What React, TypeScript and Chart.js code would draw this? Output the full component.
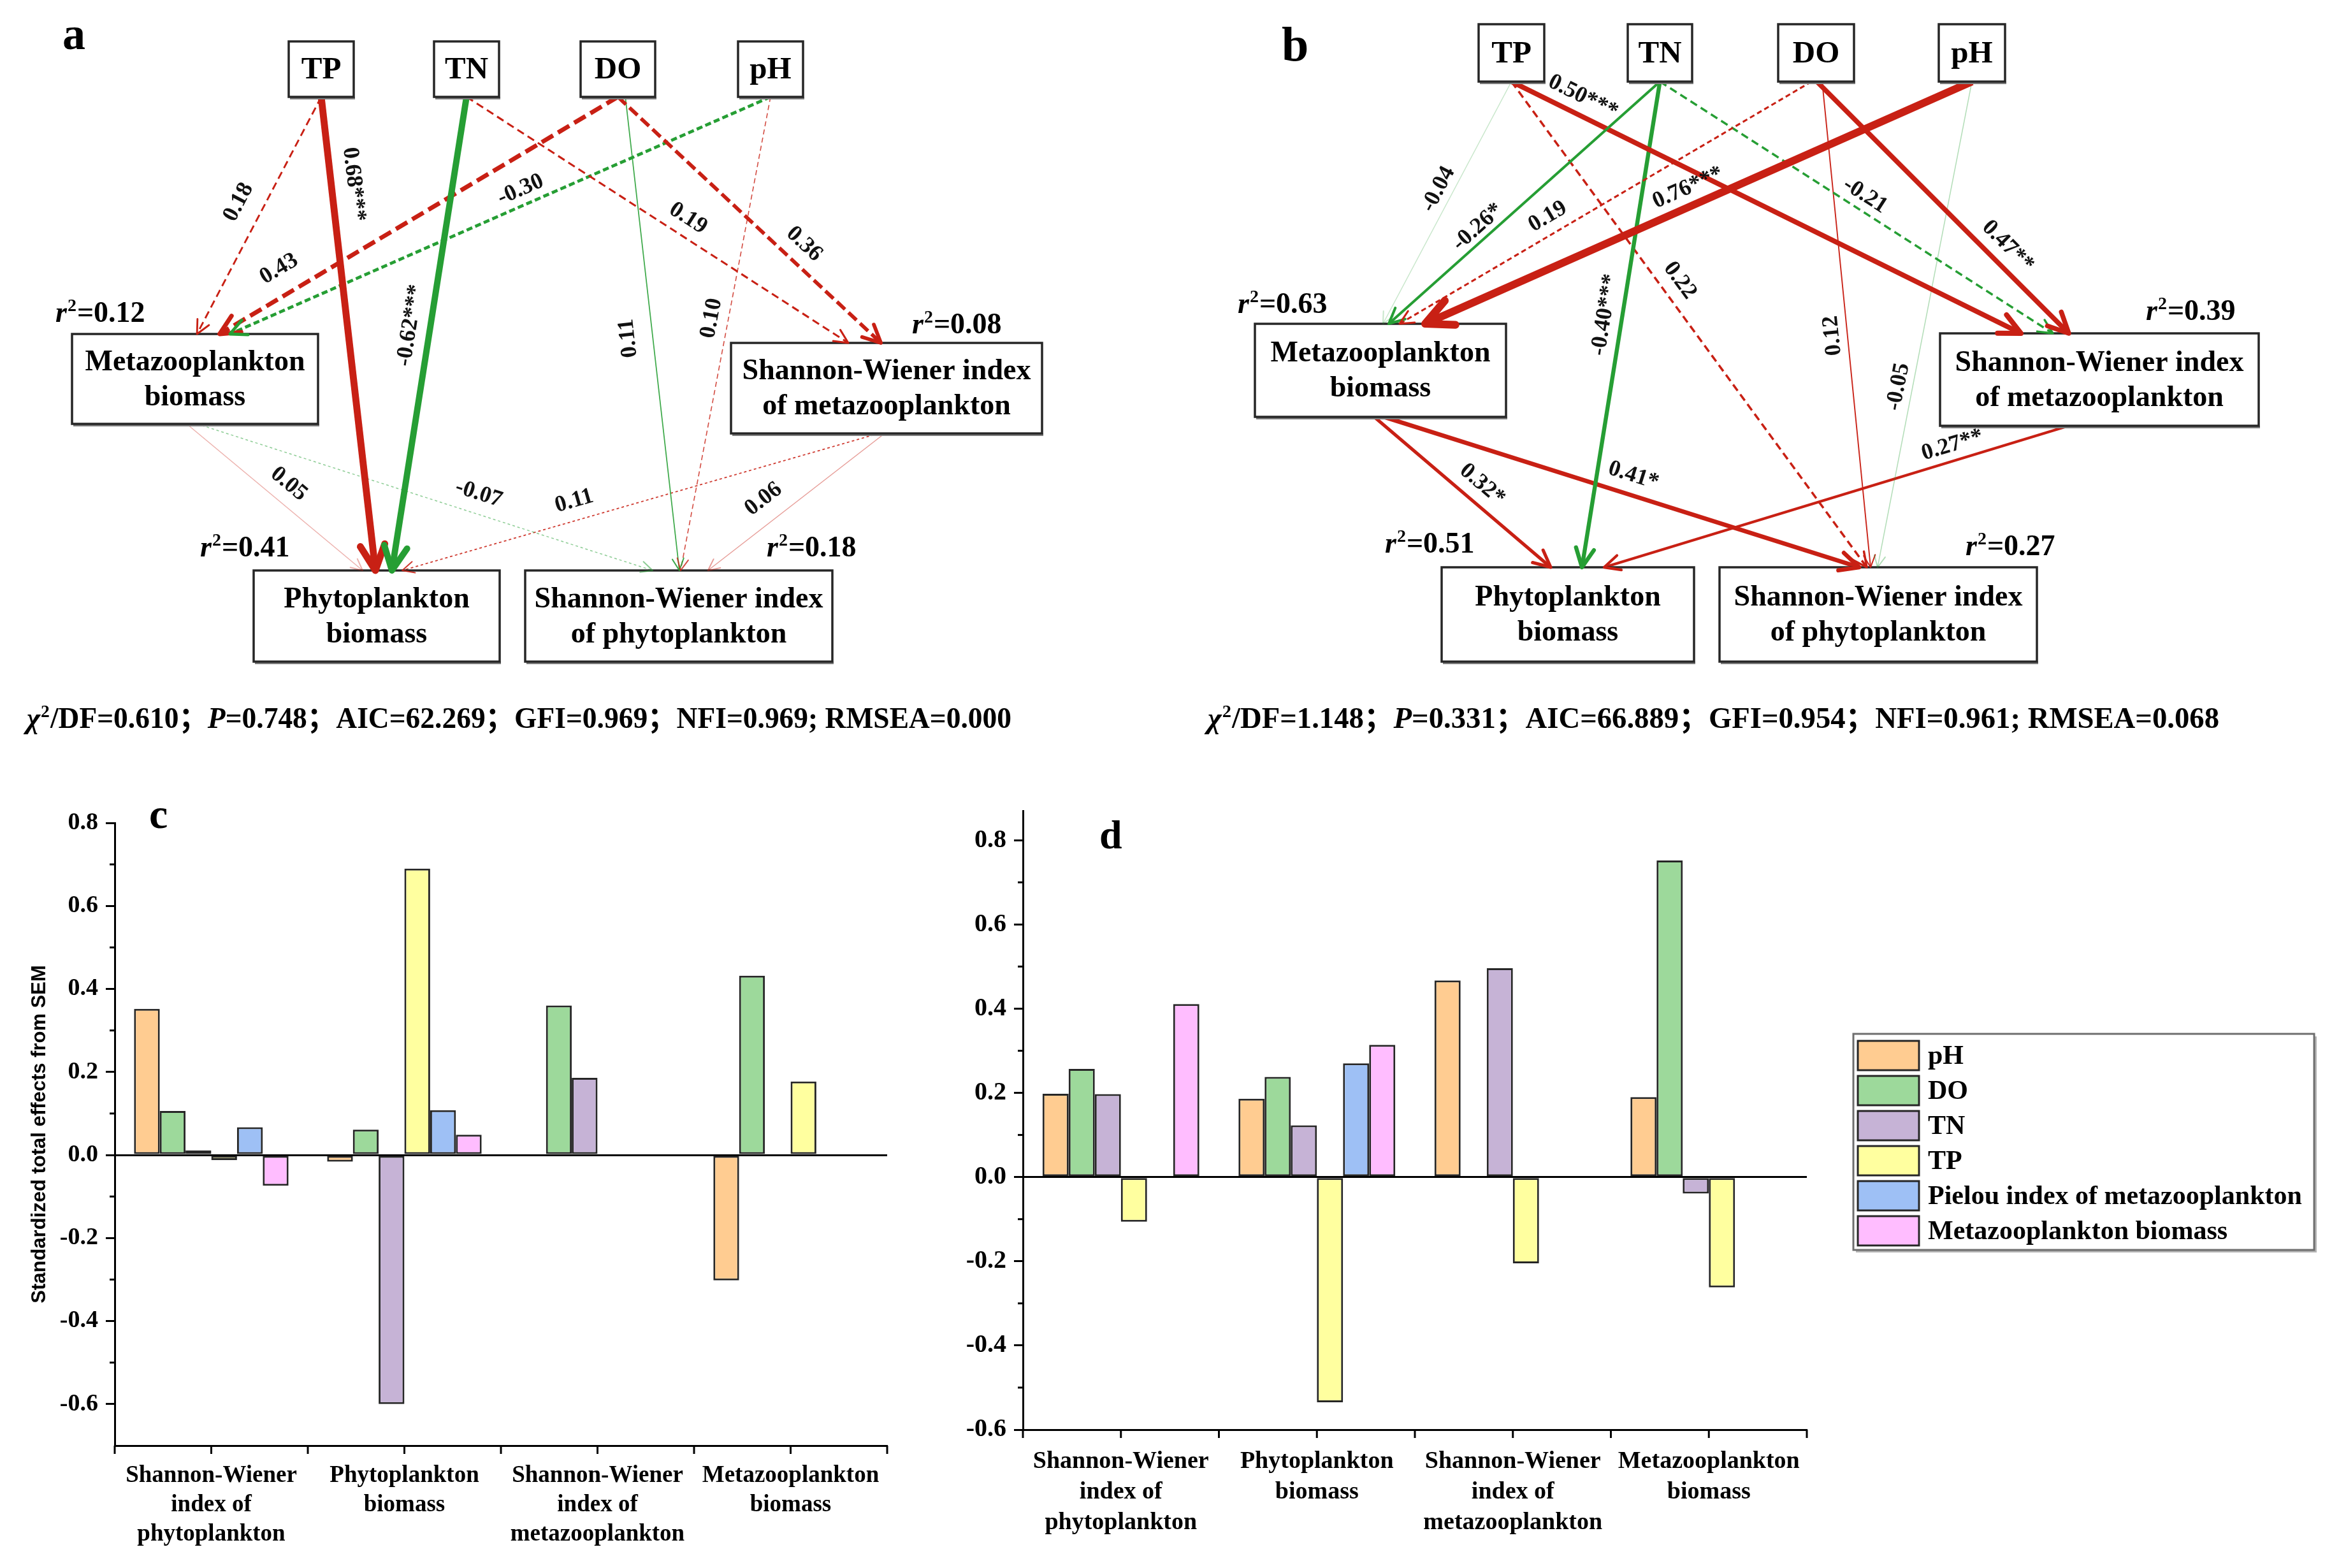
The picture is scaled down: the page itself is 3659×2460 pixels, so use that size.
import React, { useEffect, useRef } from "react";
import { Chart, registerables } from "chart.js";
Chart.register(...registerables);

const SERIF = "'Liberation Serif', 'Times New Roman', Times, 'Noto Sans CJK SC', serif";
const SANS = "'Liberation Sans', Arial, Helvetica, sans-serif";

// ================= SEM (panels a, b) data =================
const NODE_LABELS = [
  "TP", "TN", "DO", "pH",
  "Metazooplankton\nbiomass",
  "Shannon-Wiener index\nof metazooplankton",
  "Phytoplankton\nbiomass",
  "Shannon-Wiener index\nof phytoplankton",
];
const A_R2 = [null, null, null, null, 0.12, 0.08, 0.41, 0.18];
const B_R2 = [null, null, null, null, 0.63, 0.39, 0.51, 0.27];

const A_FROM = [0, 0, 1, 1, 2, 2, 2, 3, 3, 4, 4, 5, 5];
const A_TO = [4, 6, 6, 5, 4, 5, 7, 4, 7, 6, 7, 6, 7];
const A_COEF = [0.18, 0.68, -0.62, 0.19, 0.43, 0.36, 0.11, -0.30, 0.10, 0.05, -0.07, 0.11, 0.06];
const A_SIG = ["", "***", "***", "", "", "", "", "", "", "", "", "", ""];

const B_FROM = [0, 1, 2, 3, 0, 1, 2, 1, 0, 2, 3, 4, 4, 5];
const B_TO = [4, 4, 4, 4, 5, 5, 5, 6, 7, 7, 7, 6, 7, 6];
const B_COEF = [-0.04, -0.26, 0.19, 0.76, 0.50, -0.21, 0.47, -0.40, 0.22, 0.12, -0.05, 0.32, 0.41, 0.27];
const B_SIG = ["", "*", "", "***", "***", "", "**", "***", "", "", "", "*", "*", "**"];

// chi2/DF, P, AIC, GFI, NFI, RMSEA
const A_FIT = [0.610, 0.748, 62.269, 0.969, 0.969, 0.000];
const B_FIT = [1.148, 0.331, 66.889, 0.954, 0.961, 0.068];

// ---------- SEM layout / style (figure pixel units) ----------
const A_LAYOUT = {
  x0: 0, x1: 1800, left: 0, width: 1800, height: 1180,
  box: [
    [453, 65, 555, 152], [681, 65, 783, 152], [911, 65, 1028, 152], [1158, 65, 1260, 152],
    [113, 524, 499, 665], [1147, 538, 1635, 680], [398, 895, 784, 1038], [824, 895, 1306, 1038],
  ],
  r2Pos: [null, null, null, null, [87, 490], [1431, 508], [314, 858], [1203, 858]],
  startFrac: [0.5, 0.5, 0.5, 0.5, 0.5, 0.5, 0.6, 0.5, 0.5, 0.466, 0.508, 0.475, 0.494],
  endFrac: [0.508, 0.495, 0.562, 0.377, 0.60, 0.482, 0.502, 0.642, 0.506, 0.443, 0.415, 0.604, 0.595],
  labelT: [0.492, 0.19, 0.489, 0.555, 0.818, 0.657, 0.504, 0.451, 0.474, 0.511, 0.605, 0.628, 0.608],
  labelOff: [38, 35, 31, 28, 40, 31, 38, 24, 26, 30, 31, 30, 35],
  flip: [false, false, false, false, false, false, true, false, false, false, false, false, false],
  dash: ["dash", "solid", "solid", "dash", "dash", "dash", "solid", "short", "short", "solid", "dot", "dot", "solid"],
  color: ["r", "r", "g", "r", "r", "r", "g", "g", "r", "r", "g", "r", "r"],
  statsX: 42, statsW: 1545, statsY: 1127,
  letter: "a", letterX: 98, letterY: 77, letterSize: 72,
};
const B_LAYOUT = {
  x0: 1800, x1: 3659, left: 1800, width: 1859, height: 1180,
  box: [
    [2320, 38, 2423, 128], [2554, 38, 2655, 128], [2790, 38, 2909, 128], [3042, 38, 3146, 128],
    [1969, 508, 2363, 654], [3044, 523, 3544, 668], [2262, 890, 2658, 1038], [2698, 890, 3196, 1038],
  ],
  r2Pos: [null, null, null, null, [1942, 476], [3367, 487], [2173, 852], [3084, 856]],
  startFrac: [0.5, 0.5, 0.44, 0.5, 0.5, 0.5, 0.51, 0.5, 0.5, 0.58, 0.5, 0.475, 0.513, 0.404],
  endFrac: [0.51, 0.533, 0.576, 0.678, 0.254, 0.354, 0.404, 0.556, 0.464, 0.476, 0.498, 0.432, 0.44, 0.644],
  labelT: [0.472, 0.64, 0.619, 0.506, 0.125, 0.502, 0.706, 0.486, 0.432, 0.52, 0.634, 0.544, 0.513, 0.241],
  labelOff: [22, 20, 27, 28, 28, 23, 29, 27, 29, 23, 22, 29, 30, 24],
  flip: [false, false, false, false, false, false, false, false, false, true, false, false, false, false],
  dash: ["solid", "solid", "short", "solid", "solid", "dash", "solid", "solid", "dash", "solid", "solid", "solid", "solid", "solid"],
  color: ["g", "g", "r", "r", "r", "g", "r", "g", "r", "r", "g", "r", "r", "r"],
  statsX: 1895, statsW: 1587, statsY: 1127,
  letter: "b", letterX: 2011, letterY: 95, letterSize: 76,
};

// ================= Bar charts (panels c, d) data =================
const CATEGORIES = [
  ["Shannon-Wiener", "index of", "phytoplankton"],
  ["Phytoplankton", "biomass"],
  ["Shannon-Wiener", "index of", "metazooplankton"],
  ["Metazooplankton", "biomass"],
];
const SERIES = ["pH", "DO", "TN", "TP", "Pielou index of metazooplankton", "Metazooplankton biomass"];
const BAR_COLORS = ["#FFCC91", "#9DD99B", "#C6B3D6", "#FFFF9F", "#9EC0F5", "#FFBDFF"];

const C_PH = [0.352, -0.016, null, -0.302];
const C_DO = [0.106, 0.061, 0.360, 0.432];
const C_TN = [0.011, -0.600, 0.186, null];
const C_TP = [-0.012, 0.690, null, 0.177];
const C_PIELOU = [0.067, 0.108, null, null];
const C_META = [-0.074, 0.049, null, null];

const D_PH = [0.198, 0.186, 0.467, 0.190];
const D_DO = [0.257, 0.238, null, 0.752];
const D_TN = [0.197, 0.123, 0.496, -0.039];
const D_TP = [-0.106, -0.535, -0.205, -0.262];
const D_PIELOU = [null, 0.270, null, null];
const D_META = [0.411, 0.314, null, null];

const Y_TICKS = [-0.6, -0.4, -0.2, 0, 0.2, 0.4, 0.6, 0.8];
const Y_TITLE_C = "Standardized total effects from SEM";

// ================= helpers =================
function lineW(c: number) {
  return Math.max(1.5, Math.abs(c) * 16);
}
function pathColor(kind: string, c: number) {
  const a = Math.min(1, Math.max(0.25, Math.abs(c) * 9 - 0.1));
  return kind === "r" ? `rgba(200,32,20,${a})` : `rgba(38,158,52,${a})`;
}
function dashFor(kind: string, w: number) {
  if (kind === "dash") return [Math.max(12, w * 3), Math.max(7, w * 1.3)];
  if (kind === "short") return [Math.max(8, w * 2), Math.max(5, w)];
  if (kind === "dot") return [4, 4];
  return [];
}
function fmtCoef(c: number) {
  return (c < 0 ? "-" : "") + Math.abs(c).toFixed(2);
}

function drawHead(ctx: CanvasRenderingContext2D, x0: number, y0: number, x1: number, y1: number, w: number, color: string) {
  const ang = Math.atan2(y1 - y0, x1 - x0);
  const h = 16 + w * 2.6;
  const spread = 0.45;
  ctx.save();
  ctx.setLineDash([]);
  ctx.strokeStyle = color;
  ctx.lineWidth = Math.max(w, 2);
  ctx.lineCap = "round";
  ctx.lineJoin = "round";
  ctx.beginPath();
  ctx.moveTo(x1 - h * Math.cos(ang - spread), y1 - h * Math.sin(ang - spread));
  ctx.lineTo(x1, y1);
  ctx.lineTo(x1 - h * Math.cos(ang + spread), y1 - h * Math.sin(ang + spread));
  ctx.stroke();
  ctx.restore();
}

type Seg = { t: string; it?: boolean; sup?: boolean };
function segFont(s: Seg, size: number) {
  const sz = s.sup ? Math.round(size * 0.6) : size;
  return `${s.it ? "italic " : ""}bold ${sz}px ${SERIF}`;
}
function drawSegments(ctx: CanvasRenderingContext2D, segs: Seg[], x: number, y: number, size: number, targetW?: number) {
  ctx.save();
  ctx.textAlign = "left";
  ctx.textBaseline = "alphabetic";
  let W = 0;
  const ws = segs.map((s) => {
    ctx.font = segFont(s, size);
    const w = ctx.measureText(s.t).width + (s.sup ? 2 : 0);
    W += w;
    return w;
  });
  const sx = targetW ? targetW / W : 1;
  ctx.translate(x, y);
  ctx.scale(sx, 1);
  let cx = 0;
  segs.forEach((s, i) => {
    ctx.font = segFont(s, size);
    ctx.fillText(s.t, cx + (s.sup ? 1 : 0), s.sup ? -size * 0.38 : 0);
    cx += ws[i];
  });
  ctx.restore();
}

function fitSegs(f: number[]): Seg[] {
  return [
    { t: "χ", it: true },
    { t: "2", sup: true },
    { t: "/DF=" + f[0].toFixed(3) + "；" },
    { t: "P", it: true },
    {
      t: "=" + f[1].toFixed(3) + "；AIC=" + f[2].toFixed(3) + "；GFI=" + f[3].toFixed(3) +
        "；NFI=" + f[4].toFixed(3) + "; RMSEA=" + f[5].toFixed(3),
    },
  ];
}

function semConfig(L: any, from: number[], to: number[], coef: number[], sig: string[], r2: (number | null)[], fit: number[]): any {
  const datasets = from.map((f, i) => {
    const sb = L.box[f];
    const tb = L.box[to[i]];
    const sx = sb[0] + (sb[2] - sb[0]) * L.startFrac[i];
    const sy = sb[3];
    const ex = tb[0] + (tb[2] - tb[0]) * L.endFrac[i];
    const ey = tb[1];
    const w = lineW(coef[i]);
    return {
      label: NODE_LABELS[f] + "→" + NODE_LABELS[to[i]],
      data: [{ x: sx, y: sy }, { x: ex, y: ey }],
      showLine: true,
      borderColor: pathColor(L.color[i], coef[i]),
      backgroundColor: pathColor(L.color[i], coef[i]),
      borderWidth: w,
      borderDash: dashFor(L.dash[i], w),
      borderCapStyle: "butt",
      pointRadius: 0,
      pointHoverRadius: 0,
      fill: false,
      tension: 0,
      clip: false,
    };
  });

  const plugin = {
    id: "sem_" + L.letter,
    afterDatasetsDraw(chart: any) {
      const ctx: CanvasRenderingContext2D = chart.ctx;
      const X = (v: number) => chart.scales.x.getPixelForValue(v);
      const Y = (v: number) => chart.scales.y.getPixelForValue(v);
      ctx.save();
      // boxes
      L.box.forEach((b: number[], i: number) => {
        const x0 = X(b[0]), y0 = Y(b[1]), x1 = X(b[2]), y1 = Y(b[3]);
        ctx.setLineDash([]);
        ctx.fillStyle = "#7d7d7d";
        ctx.fillRect(x0 + 2, y1, x1 - x0, 4);
        ctx.fillStyle = "#ffffff";
        ctx.fillRect(x0, y0, x1 - x0, y1 - y0);
        ctx.strokeStyle = "#262626";
        ctx.lineWidth = 3.5;
        ctx.strokeRect(x0, y0, x1 - x0, y1 - y0);
        const lines = NODE_LABELS[i].split("\n");
        const size = lines.length > 1 ? 46 : 49;
        ctx.font = `bold ${size}px ${SERIF}`;
        ctx.fillStyle = "#000";
        ctx.textAlign = "center";
        ctx.textBaseline = "middle";
        const cx = (x0 + x1) / 2, cy = (y0 + y1) / 2;
        lines.forEach((t, k) => ctx.fillText(t, cx, cy + 2 + (k - (lines.length - 1) / 2) * 55, x1 - x0 - 16));
      });
      // arrowheads + labels
      from.forEach((f, i) => {
        const pts = chart.getDatasetMeta(i).data;
        const a = pts[0], b = pts[1];
        const ds = chart.data.datasets[i];
        drawHead(ctx, a.x, a.y, b.x, b.y, ds.borderWidth, ds.borderColor);
        const t = L.labelT[i], off = L.labelOff[i];
        const px = a.x + (b.x - a.x) * t, py = a.y + (b.y - a.y) * t;
        let ang = Math.atan2(b.y - a.y, b.x - a.x);
        if (Math.cos(ang) < 0) ang += Math.PI;
        if (L.flip[i]) ang += Math.PI;
        const lx = px + off * Math.sin(ang), ly = py - off * Math.cos(ang);
        ctx.save();
        ctx.translate(lx, ly);
        ctx.rotate(ang);
        ctx.font = `bold 36px ${SERIF}`;
        ctx.textAlign = "center";
        ctx.textBaseline = "middle";
        ctx.fillStyle = "#111";
        ctx.fillText(fmtCoef(coef[i]) + sig[i], 0, 0);
        ctx.restore();
      });
      // r2 labels
      r2.forEach((v, i) => {
        if (v == null) return;
        const pos = L.r2Pos[i];
        drawSegments(ctx, [{ t: "r", it: true }, { t: "2", sup: true }, { t: "=" + v.toFixed(2) }],
          X(pos[0]), Y(pos[1]) + 15, 46);
      });
      // fit statistics
      ctx.fillStyle = "#000";
      drawSegments(ctx, fitSegs(fit), X(L.statsX), Y(L.statsY) + 15, 46, L.statsW);
      // panel letter
      ctx.font = `bold ${L.letterSize}px ${SERIF}`;
      ctx.textAlign = "left";
      ctx.textBaseline = "alphabetic";
      ctx.fillText(L.letter, X(L.letterX), Y(L.letterY));
      ctx.restore();
    },
  };

  return {
    type: "scatter",
    data: { datasets },
    options: {
      animation: false,
      responsive: false,
      devicePixelRatio: 1,
      events: [],
      layout: { padding: 0 },
      plugins: { legend: { display: false }, tooltip: { enabled: false } },
      scales: {
        x: { type: "linear", display: false, min: L.x0, max: L.x1 },
        y: { type: "linear", display: false, min: 0, max: L.height, reverse: true },
      },
    },
    plugins: [plugin],
  };
}

function barConfig(p: any): any {
  const decor = {
    id: "decor_" + p.letter,
    afterDraw(chart: any) {
      const ctx: CanvasRenderingContext2D = chart.ctx;
      const ca = chart.chartArea;
      const xs = chart.scales.x, ys = chart.scales.y;
      ctx.save();
      ctx.strokeStyle = "#000";
      ctx.lineWidth = 3;
      const seg = (x0: number, y0: number, x1: number, y1: number) => {
        ctx.beginPath(); ctx.moveTo(x0, y0); ctx.lineTo(x1, y1); ctx.stroke();
      };
      // minor y ticks
      for (let k = Math.ceil(p.yMin * 10 + 1e-6); k <= Math.floor(p.yMax * 10 - 1e-6); k++) {
        if (Math.abs(k) % 2 === 0) continue;
        const y = ys.getPixelForValue(k / 10);
        seg(ca.left, y, ca.left - 8, y);
      }
      // x ticks at category centres and boundaries
      const n = chart.data.labels.length;
      for (let i = 0; i < n; i++) {
        const x = xs.getPixelForTick(i);
        seg(x, ca.bottom, x, ca.bottom + 13);
      }
      for (let i = 0; i <= n; i++) {
        const x = i === 0 ? ca.left : i === n ? ca.right : (xs.getPixelForTick(i - 1) + xs.getPixelForTick(i)) / 2;
        seg(x, ca.bottom, x, ca.bottom + 13);
      }
      // panel letter
      ctx.fillStyle = "#000";
      ctx.font = `bold ${p.letterSize}px ${SERIF}`;
      ctx.textAlign = "left";
      ctx.textBaseline = "alphabetic";
      ctx.fillText(p.letter, p.letterX - p.left, p.letterY - p.top);
      // legend
      if (p.legend) {
        const lg = p.legend;
        const bx = lg.x - p.left, by = lg.y - p.top;
        ctx.fillStyle = "#b5b5b5";
        ctx.fillRect(bx + 4, by + 4, lg.w, lg.h);
        ctx.fillStyle = "#fff";
        ctx.fillRect(bx, by, lg.w, lg.h);
        ctx.strokeStyle = "#6e6e6e";
        ctx.lineWidth = 3;
        ctx.strokeRect(bx, by, lg.w, lg.h);
        chart.data.datasets.forEach((ds: any, i: number) => {
          const y = by + 11 + i * 55;
          ctx.fillStyle = ds.backgroundColor;
          ctx.fillRect(bx + 7, y, 96, 46);
          ctx.strokeStyle = "#262626";
          ctx.lineWidth = 3;
          ctx.strokeRect(bx + 7, y, 96, 46);
          ctx.fillStyle = "#000";
          ctx.font = `bold 42px ${SERIF}`;
          ctx.textBaseline = "middle";
          ctx.fillText(ds.label, bx + 117, y + 25);
        });
      }
      ctx.restore();
    },
  };

  return {
    type: "bar",
    data: {
      labels: CATEGORIES,
      datasets: SERIES.map((name, i) => ({
        label: name,
        data: p.values[i],
        backgroundColor: BAR_COLORS[i],
        borderColor: "#262626",
        borderWidth: 3,
        borderSkipped: false,
        categoryPercentage: 0.8,
        barPercentage: 1.0,
      })),
    },
    options: {
      animation: false,
      responsive: false,
      devicePixelRatio: 1,
      events: [],
      layout: { padding: { top: p.padTop, right: p.padRight, left: 0, bottom: 0 } },
      plugins: { legend: { display: false }, tooltip: { enabled: false } },
      scales: {
        x: {
          type: "category",
          offset: true,
          grid: { display: false, tickLength: 12 },
          border: { display: true, color: "#000", width: 3 },
          ticks: {
            color: "#000",
            font: { family: SERIF, weight: "bold", size: p.xFont, lineHeight: p.xLine },
            padding: p.xPad,
            maxRotation: 0,
            minRotation: 0,
            autoSkip: false,
          },
          afterFit: (s: any) => { s.height = p.xHeight; },
        },
        y: {
          type: "linear",
          min: p.yMin,
          max: p.yMax,
          afterBuildTicks: (s: any) => { s.ticks = Y_TICKS.map((v) => ({ value: v })); },
          afterFit: (s: any) => { s.width = p.yWidth; },
          grid: {
            color: (c: any) => (c.tick && Math.abs(c.tick.value) < 1e-9 ? "#000" : "rgba(0,0,0,0)"),
            lineWidth: 3,
            tickColor: "#000",
            tickWidth: 3,
            tickLength: 14,
            drawOnChartArea: true,
          },
          border: { display: true, color: "#000", width: 3 },
          ticks: {
            color: "#000",
            font: { family: SERIF, weight: "bold", size: p.yFont },
            padding: 12,
            callback: (v: any) => Number(v).toFixed(1),
          },
          title: p.title
            ? {
                display: true,
                text: p.title,
                color: "#000",
                font: { family: SANS, weight: "bold", size: 31 },
                padding: { top: 44, bottom: 0 },
              }
            : { display: false },
        },
      },
    },
    plugins: [decor],
  };
}

function ChartCanvas(props: { left: number; top: number; width: number; height: number; make: () => any }) {
  const ref = useRef<HTMLCanvasElement | null>(null);
  useEffect(() => {
    if (!ref.current) return;
    const chart = new Chart(ref.current, props.make());
    return () => chart.destroy();
  }, []);
  return (
    <canvas
      ref={ref}
      width={props.width}
      height={props.height}
      style={{ position: "absolute", left: props.left, top: props.top, width: props.width, height: props.height }}
    />
  );
}

export default function App() {
  useEffect(() => {
    document.body.style.margin = "0";
    document.body.style.background = "#fff";
  }, []);
  return (
    <div style={{ position: "absolute", left: 0, top: 0, width: 3659, height: 2460, background: "#fff", overflow: "hidden" }}>
      <ChartCanvas left={0} top={0} width={1800} height={1180}
        make={() => semConfig(A_LAYOUT, A_FROM, A_TO, A_COEF, A_SIG, A_R2, A_FIT)} />
      <ChartCanvas left={1800} top={0} width={1859} height={1180}
        make={() => semConfig(B_LAYOUT, B_FROM, B_TO, B_COEF, B_SIG, B_R2, B_FIT)} />
      <ChartCanvas left={0} top={1220} width={1450} height={1240}
        make={() => barConfig({
          values: [C_PH, C_DO, C_TN, C_TP, C_PIELOU, C_META],
          yMin: -0.7, yMax: 0.8, yWidth: 180, xHeight: 192, padTop: 71, padRight: 58,
          xFont: 37, xLine: 1.25, xPad: 12, yFont: 38, title: Y_TITLE_C,
          letter: "c", letterX: 234, letterY: 1299, letterSize: 66, left: 0, top: 1220,
        })} />
      <ChartCanvas left={1450} top={1220} width={2209} height={1240}
        make={() => barConfig({
          values: [D_PH, D_DO, D_TN, D_TP, D_PIELOU, D_META],
          yMin: -0.6, yMax: 0.87, yWidth: 155, xHeight: 217, padTop: 52, padRight: 824,
          xFont: 38, xLine: 1.26, xPad: 14, yFont: 40, title: null,
          letter: "d", letterX: 1725, letterY: 1331, letterSize: 64, left: 1450, top: 1220,
          legend: { x: 2908, y: 1622, w: 723, h: 339 },
        })} />
    </div>
  );
}
